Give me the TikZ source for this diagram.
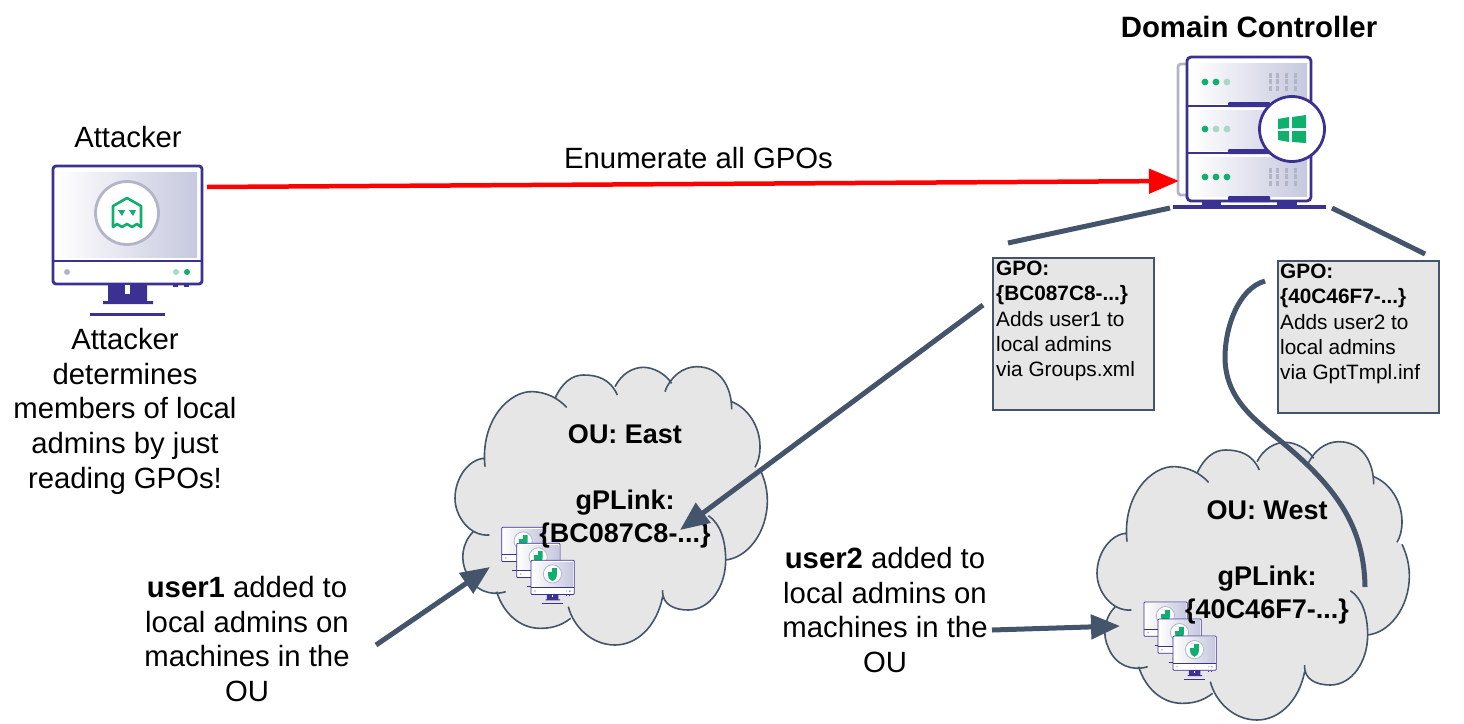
\documentclass[tikz,border=0pt]{standalone}
\usepackage{fontspec}
\setmainfont{Liberation Sans}
\usetikzlibrary{arrows.meta}
\definecolor{indigo}{HTML}{3A3192}
\definecolor{lav}{HTML}{C6C8DE}
\definecolor{lavline}{HTML}{B4B4C8}
\definecolor{grn}{HTML}{10AF6E}
\definecolor{lgrn}{HTML}{A9D8C4}
\definecolor{slate}{HTML}{44546A}
\definecolor{boxfill}{HTML}{E6E6E6}
\tikzset{
  biglabel/.style={font=\fontsize{29.3}{34.7}\selectfont, align=center, inner sep=0pt, anchor=north},
  cloudlabel/.style={font=\bfseries\fontsize{27}{33}\selectfont, align=center, inner sep=0pt, anchor=north},
  gpobox/.style={draw=slate, fill=boxfill, line width=2.4pt, minimum width=161pt, minimum height=151.5pt, anchor=north west, inner sep=0pt},
  gpotext/.style={font=\fontsize{20.8}{25.4}\selectfont, align=left, inner sep=0pt, anchor=north west},
  link/.style={draw=slate, line width=5pt},
  linkarrow/.style={link, -{Triangle[length=29pt,width=24pt]}},
  redarrow/.style={draw=red, line width=4.5pt, -{Triangle[length=30pt,width=24pt]}},
}
% the outline of a cloud, lobe by lobe; #1 is either -- or nothing
\newcommand\cloudlobes[1]{
  (135,290) .. controls (120,150) and (210,60) .. (280,65) .. controls (320,67) and (355,85) .. (380,112) #1
  (345,85) .. controls (365,40) and (395,15) .. (430,15) .. controls (470,15) and (510,25) .. (532,75) #1
  (525,50) .. controls (545,10) and (580,-8) .. (610,-8) .. controls (640,-8) and (675,10) .. (695,40) #1
  (675,65) .. controls (690,20) and (730,-10) .. (770,-10) .. controls (840,-10) and (875,50) .. (875,118) #1
  (875,95) .. controls (925,115) and (960,170) .. (960,230) .. controls (960,255) and (955,275) .. (945,292) #1
  (960,298) .. controls (975,330) and (982,360) .. (982,392) .. controls (982,490) and (920,565) .. (855,570) #1
  (805,437) .. controls (840,460) and (857,510) .. (857,570) .. controls (857,650) and (810,720) .. (745,720) .. controls (705,720) and (665,705) .. (668,660) #1
  (668,680) .. controls (650,770) and (590,825) .. (525,825) .. controls (455,825) and (400,770) .. (385,710) #1
  (392,745) .. controls (360,770) and (330,775) .. (300,775) .. controls (240,775) and (190,730) .. (170,665) #1
  (197,665) .. controls (150,680) and (100,660) .. (80,610) .. controls (60,570) and (65,520) .. (100,485) #1
  (148,495) .. controls (90,500) and (45,440) .. (45,385) .. controls (45,320) and (90,265) .. (135,265)
}
\newcommand\cloudat[2]{
  \begin{scope}[shift={(#1,#2)}, x=0.33333pt, y=-0.33333pt]
    \fill[boxfill] \cloudlobes{--} -- cycle;
    \draw[slate, line width=1.6pt] \cloudlobes{};
  \end{scope}
}
% monitor: x, y of the top left corner, scale, icon
\newcommand\monitorat[4]{
  \begin{scope}[shift={(#1,#2)}, scale=#3]
    \pgfmathsetmacro\mlw{max(2.8*#3,0.8)}
    \pgfmathsetmacro\mrc{3*#3}
    \fill[white, rounded corners=\mrc pt] (0,0) rectangle (149,118);
    \shade[left color=white, right color=lav] (3,6) rectangle (144,91);
    \draw[indigo, line width=\mlw pt, rounded corners=\mrc pt] (0,0) rectangle (149,118);
    \draw[indigo, line width=\mlw pt] (0,95) -- (149,95);
    \fill[indigo] (55,118) -- (94,118) -- (94,135) -- (100,135) -- (100,138) -- (50,138) -- (50,135) -- (55,135) -- cycle;
    \fill[white] (72,119) rectangle (77,128);
    \fill[indigo] (37,147) rectangle (112,150);
    \fill[indigo] (120,119) rectangle (125,121);
    \fill[indigo] (131,119) rectangle (136,121);
    \fill[lavline] (14,106) circle [radius=3];
    \fill[lgrn] (123,106) circle [radius=3];
    \fill[grn] (134,106) circle [radius=3];
    \filldraw[fill=white, draw=lavline, line width=\mlw pt] (74,47) circle [radius=31.5];
    #4
  \end{scope}
}
\newcommand\ghosticon{
  \begin{scope}[shift={(74,47)}]
    \draw[grn, line width=2.6pt, line join=round] (-14,-7) -- (0,-15) -- (14,-7) -- (14,14) -- (10,11) -- (5,14) -- (0,11) -- (-5,14) -- (-10,11) -- (-14,14) -- cycle;
    \fill[grn] (-9,-3) -- (-2,-3) -- (-5,3) -- cycle;
    \fill[grn] (2,-3) -- (9,-3) -- (6,3) -- cycle;
  \end{scope}
}
\newcommand\shieldicon{
  \begin{scope}[shift={(74,47)}]
    \fill[grn] (-15,-20) -- (15,-20) -- (15,4) .. controls (15,16) and (6,22) .. (0,25) .. controls (-6,22) and (-15,16) .. (-15,4) -- cycle;
    \fill[white] (-15,-20) -- (-2,-20) -- (-2,-6) -- (-15,-6) -- cycle;
  \end{scope}
}
\begin{document}
\begin{tikzpicture}[x=1pt,y=-1pt]
\useasboundingbox (0,0) rectangle (1464,723);
\fill[white] (0,0) rectangle (1464,723);

% attacker
\node[biglabel] (attackerlabel) at (128,126) {Attacker};
\monitorat{53}{166}{1}{\ghosticon}
\coordinate (attackerport) at (207,187);
\node[biglabel] (attackernote) at (125,328) {Attacker\\determines\\members of local\\admins by just\\reading GPOs!};

% server
\node[biglabel, font=\bfseries\fontsize{29.4}{34.7}\selectfont] (dclabel) at (1249,16) {Domain Controller};
\draw[lavline, line width=2.8pt, rounded corners=3pt] (1187,64) -- (1178,64) -- (1178,195) -- (1187,195);
\fill[white, rounded corners=4pt] (1187,57) rectangle (1311,201);
\shade[left color=white, right color=lav] (1191,63) rectangle (1307,103);
\shade[left color=white, right color=lav] (1191,110) rectangle (1307,150);
\shade[left color=white, right color=lav] (1191,157) rectangle (1307,196);
\draw[indigo, line width=2.8pt, rounded corners=4pt] (1187,57) rectangle (1311,201);
\draw[indigo, line width=2.8pt] (1187,106) -- (1311,106) (1187,153) -- (1311,153);
\fill[indigo, rounded corners=1pt] (1228,102) rectangle (1270,107);
\fill[indigo, rounded corners=1pt] (1228,149) rectangle (1270,154);
\fill[indigo, rounded corners=1pt] (1228,196) rectangle (1270,202);
\fill[indigo] (1202,201) rectangle (1221,206);
\fill[indigo] (1277,201) rectangle (1297,206);
\fill[indigo] (1173,205) rectangle (1326,209);
\foreach \x/\c in {1205/grn,1216/grn,1227/lgrn} \fill[\c] (\x,82) circle [radius=3.4];
\foreach \x/\c in {1205/grn,1216/lgrn,1227/lgrn} \fill[\c] (\x,129) circle [radius=3.4];
\foreach \x/\c in {1205/grn,1216/grn,1227/grn} \fill[\c] (\x,177) circle [radius=3.4];
\foreach \x in {1269,1276,1285,1294} {
  \foreach \y in {73,79,86} \fill[lavline] (\x,\y) rectangle +(2.5,5);
  \foreach \y in {168,174,181} \fill[lavline] (\x,\y) rectangle +(2.5,5);
}
\filldraw[fill=white, draw=indigo, line width=2.8pt] (1292,129) circle [radius=32.5];
\fill[grn] (1278,119) -- (1289,117) -- (1289,128) -- (1278,129) -- cycle;
\fill[grn] (1292,117) -- (1306,115) -- (1306,128) -- (1292,128) -- cycle;
\fill[grn] (1278,131) -- (1289,131) -- (1289,142) -- (1278,140) -- cycle;
\fill[grn] (1292,131) -- (1306,131) -- (1306,143) -- (1292,142) -- cycle;
\coordinate (dcleft) at (1170,208);
\coordinate (dcright) at (1332,208);
\coordinate (dcport) at (1179,181);

% clouds
\cloudat{440}{370}
\cloudat{1082}{445}
\monitorat{501.7}{527.3}{0.29}{\shieldicon}
\monitorat{516.7}{543.3}{0.29}{\shieldicon}
\monitorat{531}{560.3}{0.29}{\shieldicon}
\monitorat{1144}{602}{0.29}{\shieldicon}
\monitorat{1158}{619}{0.29}{\shieldicon}
\monitorat{1173}{636}{0.29}{\shieldicon}
\node[cloudlabel] (eastlabel) at (625,424.5) {OU: East\\[0pt]\strut\\gPLink:\\\{BC087C8-...\}};
\node[cloudlabel] (westlabel) at (1267,500.5) {OU: West\\[0pt]\strut\\gPLink:\\\{40C46F7-...\}};
\coordinate (easttarget) at (680,530);
\coordinate (eastmachines) at (490,567);
\coordinate (westmachines) at (1120,626);
\coordinate (westtarget) at (1365,587);

% GPO boxes
\node[gpobox] (gpoa) at (992,257) {};
\node[gpobox] (gpob) at (1276.5,260) {};
\node[gpotext] (gpoatext) at (996,260.5) {\textbf{GPO:}\\\textbf{\{BC087C8-...\}}\\Adds user1 to\\local admins\\via Groups.xml};
\node[gpotext] (gpobtext) at (1280,263.5) {\textbf{GPO:}\\\textbf{\{40C46F7-...\}}\\Adds user2 to\\local admins\\via GptTmpl.inf};
\coordinate (gpoatop) at (1008,243);
\coordinate (gpobtop) at (1425,254);
\coordinate (gpoaout) at (983,305);
\coordinate (gpobout) at (1265,281);

% user labels
\node[biglabel] (usera) at (247,576) {\textbf{user1} added to\\local admins on\\machines in the\\OU};
\node[biglabel] (userb) at (885,547) {\textbf{user2} added to\\local admins on\\machines in the\\OU};
\coordinate (useraout) at (376,645);
\coordinate (userbout) at (992,630);

% connectors
\draw[redarrow] (attackerport) -- (dcport);
\node[biglabel] (enumlabel) at (698.5,147) {Enumerate all GPOs};
\draw[link] (dcleft) -- (gpoatop);
\draw[link] (dcright) -- (gpobtop);
\draw[linkarrow] (gpoaout) -- (easttarget);
\draw[linkarrow] (useraout) -- (eastmachines);
\draw[linkarrow] (userbout) -- (westmachines);
\draw[link] (gpobout) .. controls (1237,289) and (1225,330) .. (1225,357) .. controls (1225,395) and (1250,415) .. (1267,430) .. controls (1330,480) and (1364,520) .. (westtarget);
\end{tikzpicture}
\end{document}
